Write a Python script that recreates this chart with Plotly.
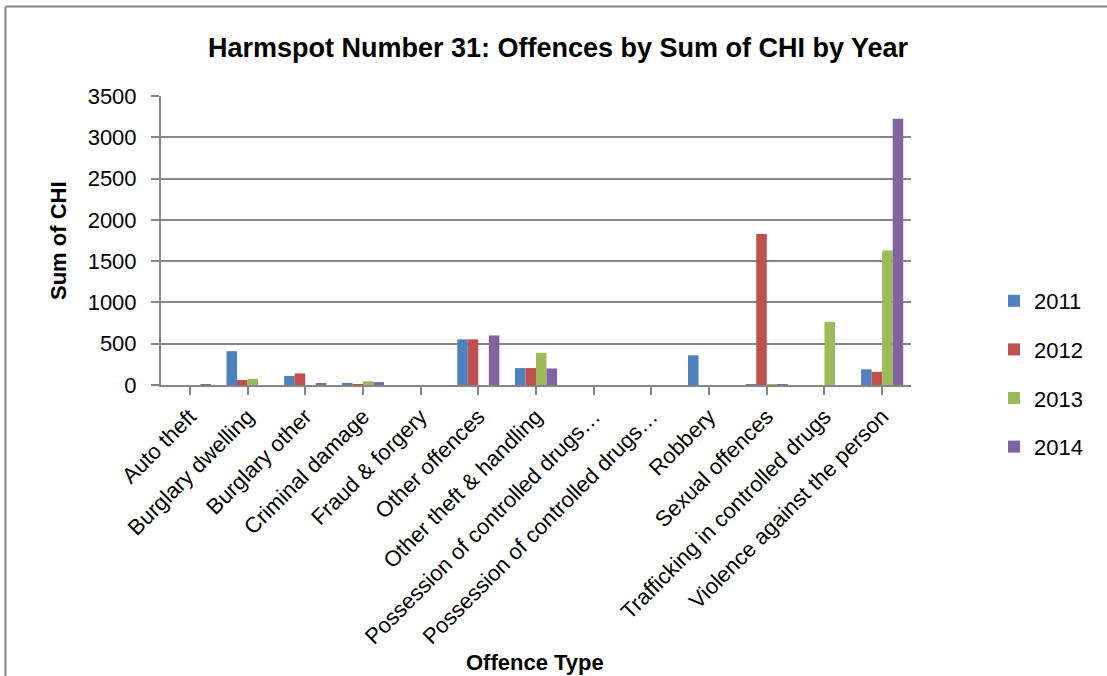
import plotly.graph_objects as go

categories = ["Auto theft", "Burglary dwelling", "Burglary other", "Criminal damage",
              "Fraud & forgery", "Other offences", "Other theft & handling",
              "Possession of controlled drugs…", "Possession of controlled drugs…",
              "Robbery", "Sexual offences", "Trafficking in controlled drugs",
              "Violence against the person"]
years = ["2011", "2012", "2013", "2014"]
v2011 = [0, 410, 110, 20, 0, 553, 205, 0, 0, 360, 5, 0, 190]
v2012 = [0, 60, 140, 10, 0, 553, 205, 0, 0, 0, 1828, 0, 160]
v2013 = [0, 75, 0, 45, 0, 0, 390, 0, 0, 0, 4, 765, 1630]
v2014 = [10, 0, 25, 35, 0, 600, 200, 0, 0, 0, 5, 0, 3225]
colors = ["#4F81BD", "#C0504D", "#9BBB59", "#8064A2"]
y_ticks = [0, 500, 1000, 1500, 2000, 2500, 3000, 3500]

FONT = "Liberation Sans"
W, H = 1107, 676
PL, PR, PT, PB = 161, 911, 96, 385  # plot area in page pixels
PW, PH = PR - PL, PB - PT
xpos = list(range(len(categories)))

def px_x(x):
    return (x - PL) / PW

def px_y(y):
    return (PB - y) / PH

fig = go.Figure()
for yr, vals, col in zip(years, [v2011, v2012, v2013, v2014], colors):
    fig.add_trace(go.Bar(x=xpos, y=vals, name=yr, marker_color=col,
                         marker_line_width=0, legendgroup=yr))

fig.update_layout(
    width=W, height=H,
    margin=dict(l=PL, r=W - PR, t=PT, b=H - PB),
    paper_bgcolor="white", plot_bgcolor="white",
    barmode="group", bargap=0.27, bargroupgap=0,
    font=dict(family=FONT, size=22, color="black"),
    title=dict(text="<b>Harmspot Number 31: Offences by Sum of CHI by Year</b>",
               x=558 / W, xanchor="center", y=1 - 48 / H, yanchor="middle",
               font=dict(family=FONT, size=27, color="black")),
    xaxis=dict(
        tickmode="array", tickvals=xpos, ticktext=categories,
        tickangle=-45, range=[-0.5, len(categories) - 0.5],
        showgrid=False, showline=True, linecolor="#868686", linewidth=2,
        ticks="outside", tickson="boundaries", ticklen=8, tickcolor="#868686",
        tickwidth=2, tickfont=dict(family=FONT, size=22),
    ),
    yaxis=dict(
        range=[0, 3500], tickmode="array", tickvals=y_ticks,
        showgrid=True, gridcolor="#868686", gridwidth=1.5,
        showline=True, linecolor="#868686", linewidth=2,
        ticks="outside", ticklen=8, tickcolor="#868686", tickwidth=2,
        tickfont=dict(family=FONT, size=22), ticklabelstandoff=10,
        zeroline=False,
    ),
    legend=dict(x=994 / W, xref="container", y=(H - 280) / H, yref="container",
                xanchor="left", yanchor="top", traceorder="grouped", tracegroupgap=17,
                font=dict(family=FONT, size=22), bgcolor="rgba(0,0,0,0)"),
    showlegend=True,
)

# axis titles as annotations at the reference positions
fig.add_annotation(text="<b>Sum of CHI</b>", xref="paper", yref="paper",
                   x=px_x(58), y=px_y(241), textangle=-90, showarrow=False,
                   xanchor="center", yanchor="middle",
                   font=dict(family=FONT, size=22, color="black"))
fig.add_annotation(text="<b>Offence Type</b>", xref="paper", yref="paper",
                   x=px_x(535), y=px_y(662), showarrow=False,
                   xanchor="center", yanchor="middle",
                   font=dict(family=FONT, size=22, color="black"))

# outer chart frame (left & top edges visible in reference)
fig.add_shape(type="line", xref="paper", yref="paper",
              x0=px_x(5.5), x1=px_x(W), y0=px_y(6.5), y1=px_y(6.5),
              line=dict(color="#868686", width=2))
fig.add_shape(type="line", xref="paper", yref="paper",
              x0=px_x(5.5), x1=px_x(5.5), y0=px_y(6.5), y1=px_y(H),
              line=dict(color="#868686", width=2))

fig.write_html("out.html", config={"displayModeBar": False},
               post_script="document.body.style.margin='0';")
